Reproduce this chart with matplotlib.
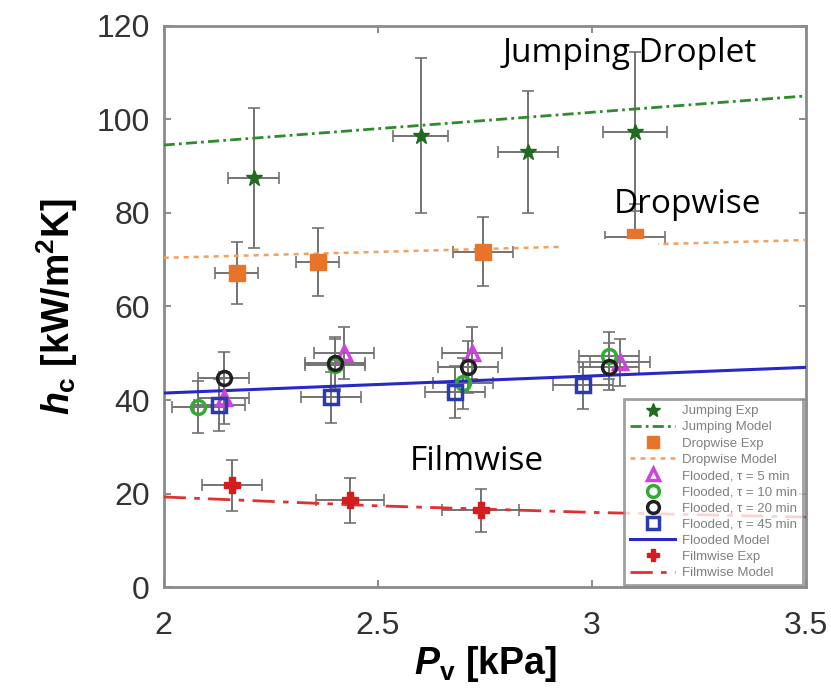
import matplotlib
matplotlib.use("Agg")
import matplotlib.pyplot as plt
from matplotlib.patches import Rectangle

# ---- data ----
jump_p = [2.21, 2.60, 2.85, 3.10]
jump_h = [87.5, 96.5, 93.0, 97.3]
jump_dh = [15.0, 16.5, 13.0, 17.0]
jump_dp = [0.06, 0.065, 0.07, 0.075]
jump_model_p = [2.0, 3.5]
jump_model_h = [94.5, 105.0]

drop_p = [2.17, 2.36, 2.745, 3.10]
drop_h = [67.2, 69.5, 71.7, 74.9]
drop_dh = [6.6, 7.2, 7.4, 7.0]
drop_dp = [0.05, 0.05, 0.07, 0.07]
drop_model_p = [2.0, 3.5]
drop_model_h = [70.4, 74.2]

fl5_p = [2.14, 2.42, 2.72, 3.065]
fl5_h = [40.4, 50.1, 50.1, 48.1]
fl10_p = [2.08, 2.40, 2.70, 3.04]
fl10_h = [38.5, 47.5, 43.6, 49.5]
fl20_p = [2.14, 2.40, 2.71, 3.04]
fl20_h = [44.7, 47.9, 47.1, 47.1]
fl45_p = [2.13, 2.39, 2.68, 2.98]
fl45_h = [38.9, 40.6, 41.7, 43.2]
fl_dh = [5.5, 5.5, 5.5, 5.0]
fl_dp = [0.06, 0.07, 0.07, 0.07]
fl_model_p = [2.0, 3.5]
fl_model_h = [41.5, 47.0]

film_p = [2.16, 2.435, 2.74]
film_h = [21.8, 18.6, 16.5]
film_dh = [5.5, 4.8, 4.6]
film_dp = [0.07, 0.08, 0.09]
film_model_p = [2.0, 2.5, 3.0, 3.5]
film_model_h = [19.3, 17.4, 16.0, 15.0]

plt.rcParams['font.family'] = ['Liberation Sans', 'DejaVu Sans']
plt.rcParams['mathtext.fontset'] = 'custom'
plt.rcParams['mathtext.rm'] = 'Liberation Sans:bold'
plt.rcParams['mathtext.it'] = 'Liberation Sans:bold:italic'
plt.rcParams['mathtext.bf'] = 'Liberation Sans:bold'

fig = plt.figure(figsize=(8.31, 6.95), dpi=100)
ax = fig.add_axes([0.197, 0.155, 0.773, 0.808])

ekw = dict(fmt='none', ecolor='#737373', elinewidth=1.4, capsize=4, capthick=1.2, zorder=2)

# model lines
ax.plot(jump_model_p, jump_model_h, color='#2e8b2e', ls=(0, (4, 1.5, 1, 1.5)), lw=2, label='Jumping Model', zorder=3)
ax.plot(drop_model_p, drop_model_h, color='#f0a060', ls=(0, (2, 2)), lw=1.8, label='Dropwise Model', zorder=3)
ax.plot(fl_model_p, fl_model_h, color='#2828c8', ls='-', lw=2.2, label='Flooded Model', zorder=3)
ax.plot(film_model_p, film_model_h, color='#e03030', ls=(0, (8, 3, 2, 3)), lw=2, label='Filmwise Model', zorder=3)

# experimental points
ax.errorbar(jump_p, jump_h, yerr=jump_dh, xerr=jump_dp, **ekw)
ax.plot(jump_p, jump_h, ls='none', marker='*', ms=12, color='#1f6b1f', label='Jumping Exp', zorder=4)

ax.errorbar(drop_p, drop_h, yerr=drop_dh, xerr=drop_dp, **ekw)
ax.plot(drop_p, drop_h, ls='none', marker='s', ms=11, color='#e8742a', label='Dropwise Exp', zorder=4)

for p, h, col, mk, lab in [(fl5_p, fl5_h, '#cc44dd', '^', 'Flooded, \u03c4 = 5 min'),
                           (fl10_p, fl10_h, '#33aa33', 'o', 'Flooded, \u03c4 = 10 min'),
                           (fl20_p, fl20_h, '#202020', 'o', 'Flooded, \u03c4 = 20 min'),
                           (fl45_p, fl45_h, '#2a3ab0', 's', 'Flooded, \u03c4 = 45 min')]:
    ax.errorbar(p, h, yerr=fl_dh, xerr=fl_dp, **ekw)
    ax.plot(p, h, ls='none', marker=mk, ms=10, mfc='none', mec=col, mew=2.5, label=lab, zorder=4)

ax.errorbar(film_p, film_h, yerr=film_dh, xerr=film_dp, **ekw)
ax.plot(film_p, film_h, ls='none', marker='P', ms=11, color='#d41e1e', label='Filmwise Exp', zorder=4)

# white box pasted under the "Dropwise" label
ax.add_patch(Rectangle((0.62, 0.49), 0.15, 0.13, transform=ax.transAxes,
                       facecolor='white', edgecolor='none', zorder=5))

tkw = dict(ha='center', va='baseline', fontsize=24, color='black',
           family=['Open Sans', 'DejaVu Sans'], zorder=6)
ax.text(3.088, 112.3, 'Jumping Droplet', **tkw)
ax.text(3.222, 80.0, 'Dropwise', **tkw)
ax.text(2.730, 25.0, 'Filmwise', **tkw)

order = ['Jumping Exp', 'Jumping Model', 'Dropwise Exp', 'Dropwise Model',
         'Flooded, \u03c4 = 5 min', 'Flooded, \u03c4 = 10 min', 'Flooded, \u03c4 = 20 min',
         'Flooded, \u03c4 = 45 min', 'Flooded Model', 'Filmwise Exp', 'Filmwise Model']
handles, labels = ax.get_legend_handles_labels()
hmap = dict(zip(labels, handles))
leg = ax.legend([hmap[k] for k in order], order, loc='lower right', fontsize=9.5,
                frameon=True, fancybox=False, borderpad=0.45, labelspacing=0.3,
                handlelength=3.4, handletextpad=0.5, markerscale=0.85,
                bbox_to_anchor=(1.005, -0.008))
leg.get_frame().set_edgecolor('#888888')
leg.get_frame().set_linewidth(2)
leg.set_zorder(7)
for t in leg.get_texts():
    t.set_color('#808080')

ax.set_xlim(2, 3.5)
ax.set_ylim(0, 120)
ax.set_xticks([2, 2.5, 3, 3.5])
ax.set_xticklabels(['2', '2.5', '3', '3.5'])
ax.set_yticks([0, 20, 40, 60, 80, 100, 120])
ax.tick_params(direction='in', top=True, right=True, length=5, width=1.2,
               labelsize=23, labelcolor='#333333', color='#777777')
ax.tick_params(axis='y', pad=10)
ax.tick_params(axis='x', pad=17)
for s in ax.spines.values():
    s.set_color('#8a8a8a')
    s.set_linewidth(2)

ax.set_xlabel(r'$P_\mathrm{v}$ [kPa]', fontsize=27, fontweight='bold', labelpad=2)
ax.set_ylabel(r'$h_\mathrm{c}$ [kW/m$^\mathrm{2}$K]', fontsize=27, fontweight='bold', labelpad=12)

fig.savefig('out.png', dpi=100)
